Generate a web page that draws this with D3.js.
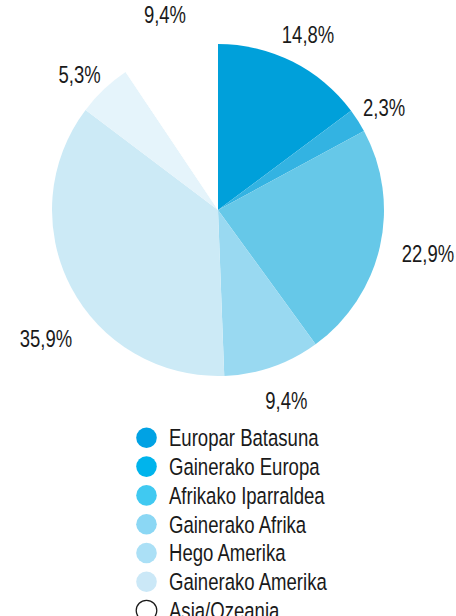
<!DOCTYPE html>
<html>
    <head>
        <script src="https://d3js.org/d3.v7.min.js"></script>
        <style>
            body { margin: 0; background: #fff; }
            text { font-family: "Liberation Sans", Arial, sans-serif; fill: #1a1a1a; }
        </style>
    </head>
    <body>
        <svg width="456" height="616" id="mainSvg"></svg>
        <script>
            const regions = ["Europar Batasuna", "Gainerako Europa", "Afrikako Iparraldea", "Gainerako Afrika", "Hego Amerika", "Gainerako Amerika", "Asia/Ozeania"]
            const shares = [14.8, 2.3, 22.9, 9.4, 35.9, 5.3, 9.4]
            const shareLabels = ["14,8%", "2,3%", "22,9%", "9,4%", "35,9%", "5,3%", "9,4%"]
            const sliceColors = ["#00a0da", "#33b3e2", "#66c8e8", "#99d9f1", "#cceaf6", "#e5f4fb", "#ffffff"]
            const legendColors = ["#00a2e4", "#00b4ec", "#40c9f1", "#8bd7f4", "#abe0f6", "#cbe8f7", "#ffffff"]

            // small hand nudges for the percentage labels (layout only)
            const labelNudge = [[-1, 6], [-5, 7], [12, -2], [2, -1], [8, 34], [1, 12], [6, -1]]

            const svg = d3.select("#mainSvg")
            const cx = 218, cy = 210, r = 166

            const pie = d3.pie().sort(null).value(d => d)
            const arcs = pie(shares)
            const arc = d3.arc().innerRadius(0).outerRadius(r)
            const labelArc = d3.arc().innerRadius(203).outerRadius(203)

            const g = svg.append("g").attr("transform", `translate(${cx},${cy})`)

            g.selectAll("path").data(arcs).enter().append("path")
                .attr("d", arc)
                .attr("fill", (d, i) => sliceColors[i])

            g.selectAll(".lbl").data(arcs).enter().append("text")
                .attr("class", "lbl")
                .attr("transform", (d, i) => {
                    const [x, y] = labelArc.centroid(d)
                    return `translate(${x + labelNudge[i][0]},${y + labelNudge[i][1]}) scale(0.77,1)`
                })
                .attr("text-anchor", "middle")
                .attr("dy", "0.36em")
                .attr("font-size", 24)
                .text((d, i) => shareLabels[i])

            // leyenda
            const legend = svg.append("g").attr("transform", "translate(146.5,437.8)")
            const rows = legend.selectAll("g").data(regions).enter().append("g")
                .attr("transform", (d, i) => `translate(0,${i * 28.8})`)

            rows.append("circle")
                .attr("r", 10.3)
                .attr("fill", (d, i) => legendColors[i])
                .attr("stroke", (d, i) => i === 6 ? "#1a1a1a" : "none")
                .attr("stroke-width", 1.3)

            rows.append("text")
                .attr("transform", "translate(22.5,0) scale(0.79,1)")
                .attr("dy", "0.36em")
                .attr("font-size", 23.5)
                .text(d => d)
        </script>
    </body>
</html>
